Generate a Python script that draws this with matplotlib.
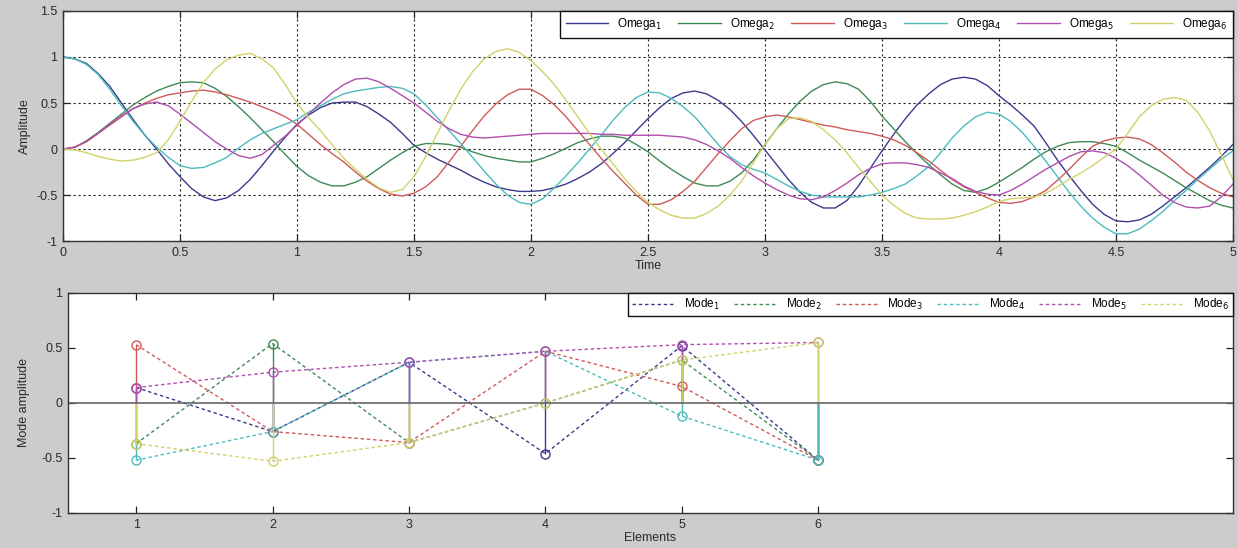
import numpy as np
import matplotlib
matplotlib.use("Agg")
import matplotlib.pyplot as plt

plt.rcParams["font.family"] = ["Liberation Sans", "DejaVu Sans"]

# ---- time responses, sampled every 0.05 s ----
time = np.linspace(0, 5, 101)

omega1 = [1.00, 0.98, 0.93, 0.82, 0.68, 0.50, 0.32, 0.15, 0.00, -0.16,
          -0.30, -0.43, -0.52, -0.56, -0.53, -0.45, -0.33, -0.18, -0.02, 0.13,
          0.27, 0.37, 0.45, 0.50, 0.51, 0.51, 0.46, 0.38, 0.29, 0.17,
          0.04, -0.04, -0.11, -0.17, -0.23, -0.30, -0.36, -0.41, -0.44, -0.46,
          -0.46, -0.45, -0.42, -0.38, -0.32, -0.25, -0.16, -0.05, 0.07, 0.20,
          0.33, 0.45, 0.55, 0.61, 0.63, 0.60, 0.53, 0.43, 0.30, 0.15,
          -0.01, -0.17, -0.33, -0.47, -0.58, -0.64, -0.64, -0.56, -0.40, -0.21,
          -0.02, 0.16, 0.33, 0.48, 0.60, 0.70, 0.76, 0.78, 0.76, 0.69,
          0.58, 0.48, 0.37, 0.25, 0.07, -0.12, -0.29, -0.45, -0.60, -0.71,
          -0.78, -0.79, -0.77, -0.71, -0.62, -0.52, -0.42, -0.31, -0.20, -0.08,
          0.05]
omega2 = [0.00, 0.02, 0.09, 0.18, 0.28, 0.38, 0.48, 0.56, 0.63, 0.68,
          0.72, 0.73, 0.72, 0.66, 0.57, 0.46, 0.34, 0.21, 0.08, -0.06,
          -0.19, -0.29, -0.36, -0.40, -0.40, -0.36, -0.30, -0.21, -0.12, -0.04,
          0.03, 0.06, 0.06, 0.05, 0.02, -0.03, -0.07, -0.10, -0.12, -0.14,
          -0.14, -0.10, -0.05, 0.01, 0.07, 0.11, 0.14, 0.14, 0.12, 0.05,
          -0.03, -0.13, -0.22, -0.30, -0.37, -0.40, -0.40, -0.35, -0.26, -0.12,
          0.05, 0.22, 0.38, 0.52, 0.63, 0.70, 0.73, 0.71, 0.65, 0.52,
          0.36, 0.22, 0.08, -0.05, -0.17, -0.28, -0.38, -0.45, -0.47, -0.43,
          -0.36, -0.28, -0.20, -0.11, -0.03, 0.03, 0.07, 0.08, 0.08, 0.06,
          0.03, -0.04, -0.12, -0.19, -0.26, -0.34, -0.42, -0.49, -0.56, -0.61,
          -0.64]
omega3 = [0.00, 0.02, 0.08, 0.17, 0.26, 0.35, 0.44, 0.50, 0.55, 0.59,
          0.61, 0.63, 0.64, 0.62, 0.59, 0.55, 0.51, 0.46, 0.41, 0.35,
          0.27, 0.16, 0.05, -0.05, -0.14, -0.25, -0.35, -0.43, -0.49, -0.51,
          -0.48, -0.41, -0.30, -0.14, 0.03, 0.20, 0.36, 0.49, 0.59, 0.65,
          0.65, 0.58, 0.48, 0.35, 0.20, 0.05, -0.10, -0.24, -0.37, -0.50,
          -0.60, -0.60, -0.55, -0.46, -0.35, -0.20, -0.05, 0.09, 0.22, 0.31,
          0.35, 0.37, 0.35, 0.32, 0.29, 0.26, 0.24, 0.21, 0.19, 0.17,
          0.14, 0.10, 0.04, -0.04, -0.13, -0.23, -0.33, -0.41, -0.47, -0.53,
          -0.58, -0.59, -0.57, -0.52, -0.45, -0.34, -0.22, -0.09, 0.03, 0.09,
          0.12, 0.13, 0.11, 0.05, -0.04, -0.14, -0.25, -0.34, -0.42, -0.48,
          -0.52]
omega4 = [1.00, 0.98, 0.92, 0.81, 0.65, 0.47, 0.30, 0.15, 0.02, -0.09,
          -0.18, -0.21, -0.20, -0.15, -0.09, 0.01, 0.10, 0.17, 0.22, 0.27,
          0.32, 0.40, 0.47, 0.54, 0.60, 0.63, 0.65, 0.67, 0.68, 0.66,
          0.60, 0.48, 0.34, 0.20, 0.06, -0.09, -0.24, -0.38, -0.50, -0.58,
          -0.60, -0.54, -0.42, -0.29, -0.15, 0.00, 0.15, 0.31, 0.45, 0.56,
          0.62, 0.61, 0.55, 0.46, 0.35, 0.20, 0.05, -0.08, -0.17, -0.22,
          -0.26, -0.33, -0.40, -0.46, -0.50, -0.52, -0.52, -0.52, -0.52, -0.50,
          -0.47, -0.43, -0.38, -0.29, -0.19, -0.04, 0.12, 0.25, 0.35, 0.40,
          0.38, 0.30, 0.18, 0.03, -0.13, -0.30, -0.47, -0.62, -0.75, -0.85,
          -0.92, -0.92, -0.87, -0.78, -0.68, -0.56, -0.45, -0.33, -0.22, -0.11,
          -0.02]
omega5 = [0.00, 0.02, 0.08, 0.17, 0.27, 0.36, 0.44, 0.49, 0.51, 0.47,
          0.38, 0.28, 0.18, 0.08, 0.00, -0.07, -0.10, -0.06, 0.04, 0.14,
          0.26, 0.38, 0.50, 0.61, 0.70, 0.76, 0.77, 0.73, 0.66, 0.58,
          0.50, 0.40, 0.30, 0.22, 0.16, 0.13, 0.12, 0.13, 0.14, 0.15,
          0.16, 0.17, 0.17, 0.17, 0.17, 0.17, 0.16, 0.16, 0.15, 0.15,
          0.15, 0.15, 0.14, 0.13, 0.10, 0.05, -0.02, -0.10, -0.20, -0.29,
          -0.37, -0.44, -0.50, -0.54, -0.55, -0.52, -0.45, -0.37, -0.28, -0.21,
          -0.16, -0.15, -0.15, -0.17, -0.20, -0.26, -0.32, -0.40, -0.46, -0.49,
          -0.50, -0.45, -0.38, -0.30, -0.22, -0.15, -0.08, -0.03, -0.02, -0.04,
          -0.10, -0.18, -0.28, -0.39, -0.50, -0.58, -0.63, -0.64, -0.62, -0.52,
          -0.38]
omega6 = [0.00, -0.01, -0.04, -0.08, -0.11, -0.13, -0.12, -0.09, -0.04, 0.10,
          0.30, 0.52, 0.72, 0.87, 0.97, 1.02, 1.04, 0.98, 0.88, 0.70,
          0.50, 0.34, 0.20, 0.05, -0.10, -0.22, -0.33, -0.42, -0.47, -0.44,
          -0.30, -0.08, 0.17, 0.42, 0.65, 0.84, 0.98, 1.06, 1.09, 1.05,
          0.96, 0.84, 0.70, 0.53, 0.35, 0.17, 0.00, -0.16, -0.32, -0.46,
          -0.58, -0.66, -0.72, -0.75, -0.75, -0.70, -0.62, -0.50, -0.35, -0.15,
          0.05, 0.22, 0.33, 0.34, 0.30, 0.21, 0.10, -0.04, -0.20, -0.35,
          -0.50, -0.61, -0.70, -0.75, -0.76, -0.76, -0.75, -0.72, -0.68, -0.63,
          -0.57, -0.54, -0.53, -0.52, -0.48, -0.41, -0.33, -0.26, -0.18, -0.09,
          0.00, 0.17, 0.35, 0.47, 0.54, 0.56, 0.53, 0.40, 0.20, -0.06,
          -0.33]

# ---- mode shapes ----
elements = [1, 2, 3, 4, 5, 6]
mode1 = [0.14, -0.26, 0.37, -0.46, 0.52, -0.52]
mode2 = [-0.37, 0.54, -0.36, 0.00, 0.39, -0.52]
mode3 = [0.53, -0.26, -0.36, 0.47, 0.15, -0.52]
mode4 = [-0.52, -0.26, 0.37, 0.47, -0.12, -0.52]
mode5 = [0.14, 0.28, 0.37, 0.47, 0.53, 0.55]
mode6 = [-0.37, -0.53, -0.36, 0.00, 0.39, 0.55]

responses = [omega1, omega2, omega3, omega4, omega5, omega6]
modes = [mode1, mode2, mode3, mode4, mode5, mode6]
colors = ["#3a3a8e", "#3f8a55", "#d05a5a", "#4cbcbc", "#b04fb0", "#d2d26a"]

txt = "#2a2a2a"
fig = plt.figure(figsize=(12.38, 5.48), dpi=100, facecolor="#cccccc")

# top: amplitude vs time
ax1 = fig.add_axes([0.0509, 0.560, 0.945, 0.420])
for k, (y, c) in enumerate(zip(responses, colors)):
    ax1.plot(time, y, color=c, lw=1.0, label="Omega$_%d$" % (k + 1))
ax1.set_xlim(0, 5)
ax1.set_ylim(-1, 1.5)
ax1.set_xticks(np.arange(0, 5.01, 0.5))
ax1.set_xticklabels(["0", "0.5", "1", "1.5", "2", "2.5", "3", "3.5", "4", "4.5", "5"])
ax1.set_yticks([-1, -0.5, 0, 0.5, 1, 1.5])
ax1.set_yticklabels(["-1", "-0.5", "0", "0.5", "1", "1.5"])
ax1.grid(True, color="#222222", linestyle=(0, (2, 2.5)), lw=0.8)
ax1.set_xlabel("Time", fontsize=9, color=txt, labelpad=1)
ax1.set_ylabel("Amplitude", fontsize=9, color=txt, labelpad=4)
ax1.legend(loc="upper right", ncol=6, mode="expand",
           bbox_to_anchor=(0.425, 0.852, 0.575, 0.148),
           fontsize=8.5, frameon=True, fancybox=False, framealpha=1,
           edgecolor="#111111", handlelength=3.6, handletextpad=0.8,
           columnspacing=0.8, borderaxespad=0, borderpad=0.45)

# bottom: mode shapes (dashed lines plus stems)
ax2 = fig.add_axes([0.0549, 0.0639, 0.941, 0.4015])
for k, (m, c) in enumerate(zip(modes, colors)):
    ax2.plot(elements, m, color=c, lw=1.0, linestyle=(0, (2.5, 2)),
             label="Mode$_%d$" % (k + 1))
for m, c in zip(modes, colors):
    ax2.vlines(elements, 0, m, color=c, lw=1.0)
    ax2.plot(elements, m, linestyle="none", marker="o", ms=6.5,
             mfc="none", mec=c, mew=1.0)
ax2.axhline(0, color="#666666", lw=1.2)
ax2.set_xlim(0.5, 9.04)
ax2.set_ylim(-1, 1)
ax2.set_xticks(elements)
ax2.set_yticks([-1, -0.5, 0, 0.5, 1])
ax2.set_yticklabels(["-1", "-0.5", "0", "0.5", "1"])
ax2.set_xlabel("Elements", fontsize=9, color=txt, labelpad=1)
ax2.set_ylabel("Mode amplitude", fontsize=9, color=txt, labelpad=8)
ax2.legend(loc="upper right", ncol=6, mode="expand",
           bbox_to_anchor=(0.481, 0.864, 0.519, 0.136),
           fontsize=8.5, frameon=True, fancybox=False, framealpha=1,
           edgecolor="#111111", handlelength=3.6, handletextpad=0.8,
           columnspacing=0.8, borderaxespad=0, borderpad=0.35)

for ax in (ax1, ax2):
    ax.set_facecolor("white")
    ax.tick_params(direction="in", top=True, right=True, length=5,
                   width=0.9, labelsize=9, colors="#222222",
                   labelcolor=txt, pad=4)
    for s in ax.spines.values():
        s.set_color("#333333")
        s.set_linewidth(1.0)

fig.savefig("out.png", dpi=100, facecolor=fig.get_facecolor())
